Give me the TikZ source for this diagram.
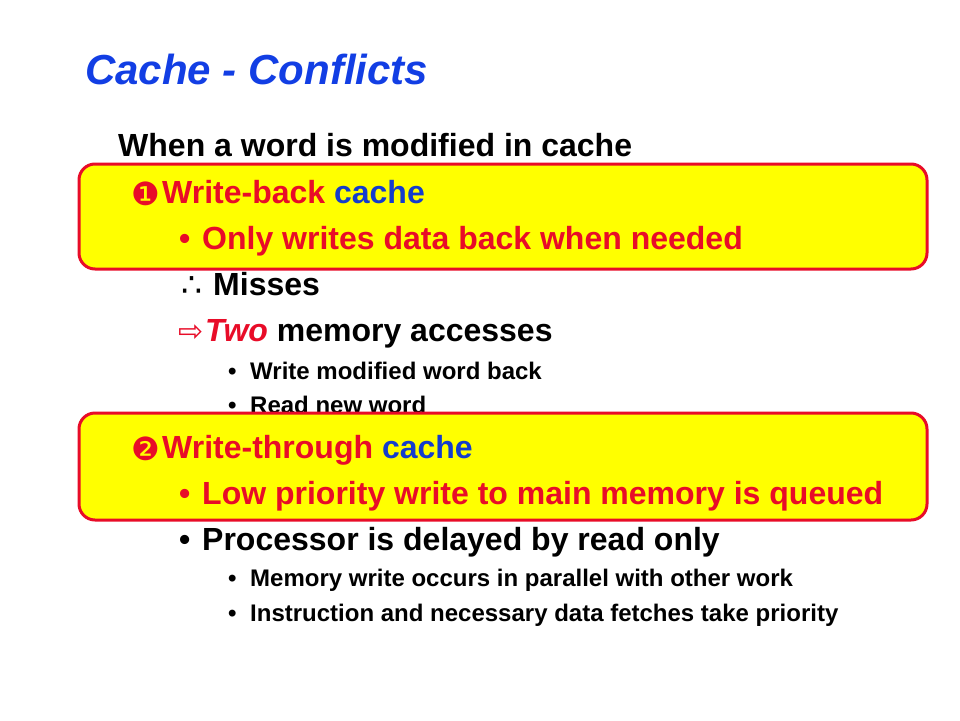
\documentclass[tikz,border=0pt]{standalone}
\usepackage{fontspec}
\setmainfont{Liberation Sans}
\newfontfamily\symfont{DejaVu Sans}
\definecolor{slred}{RGB}{232,12,40}
\definecolor{slblue}{RGB}{18,62,228}
\definecolor{cblue}{RGB}{20,60,205}
\definecolor{slyellow}{RGB}{255,255,0}
\tikzset{
  txt/.style={anchor=base west, inner sep=0pt, font=\bfseries\fontsize{32}{38}\selectfont},
  small/.style={anchor=base west, inner sep=0pt, font=\bfseries\fontsize{24}{28}\selectfont},
  ttl/.style={anchor=base west, inner sep=0pt, font=\bfseries\itshape\fontsize{42}{50}\selectfont, text=slblue},
  hibox/.style={draw=slred, line width=3pt, fill=slyellow, rounded corners=16pt},
  sym/.style={anchor=base west, inner sep=0pt},
}
\begin{document}
\begin{tikzpicture}[x=1pt,y=-1pt]
\useasboundingbox (0,0) rectangle (960,720);
\node[ttl] (title) at (85,84) {Cache - Conflicts};
\node[txt] (when) at (118,156) {When a word is modified in cache};
\node[sym] (th) at (181,296) {\symfont\fontsize{33}{34}\selectfont ∴};
\node[txt] (mis) at (213,295) {Misses};
\node[sym] (arr) at (178,341) {\symfont\fontsize{30}{32}\selectfont\color{slred}⇨};
\node[txt] (two) at (205,341) {\textcolor{slred}{\itshape Two} memory accesses};
\node[small] (b1) at (228,379) {•};
\node[small] (wm) at (250,379) {Write modified word back};
\node[small] (b2) at (228,413) {•};
\node[small] (rn) at (250,413) {Read new word};
% boxes
\draw[hibox] (79,164) rectangle (927,269);
\draw[hibox] (79,413) rectangle (927,520);
\node[sym, text=slred] (n1) at (131,205) {\symfont\fontsize{32}{34}\selectfont ❶};
\node[txt, text=slred] (wb) at (162,203) {Write-back \textcolor{cblue}{cache}};
\node[txt, text=slred] (bo) at (179,249) {•};
\node[txt, text=slred] (ow) at (202,249) {Only writes data back when needed};
\node[sym, text=slred] (n2) at (131,460) {\symfont\fontsize{32}{34}\selectfont ❷};
\node[txt, text=slred] (wt) at (162,458) {Write-through \textcolor{cblue}{cache}};
\node[txt, text=slred] (bl) at (179,504) {•};
\node[txt, text=slred] (lp) at (202,504) {Low priority write to main memory is queued};
\node[txt] (bp) at (179,550) {•};
\node[txt] (pr) at (202,550) {Processor is delayed by read only};
\node[small] (b3) at (228,586) {•};
\node[small] (mw) at (250,586) {Memory write occurs in parallel with other work};
\node[small] (b4) at (228,621) {•};
\node[small] (in) at (250,621) {Instruction and necessary data fetches take priority};
\end{tikzpicture}
\end{document}
